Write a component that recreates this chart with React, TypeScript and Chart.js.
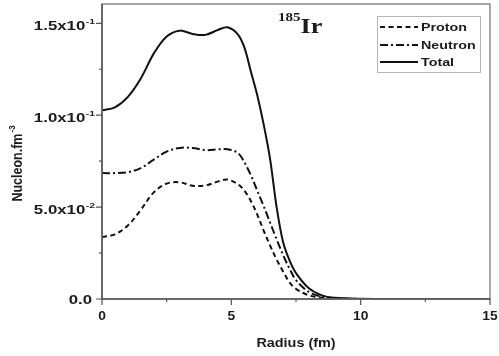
import React, { useEffect, useRef } from "react";
import { Chart, registerables } from "chart.js";

Chart.register(...registerables);

// ---- data ----
const radius = [0, 0.5, 1, 1.5, 2, 2.5, 3, 3.5, 4, 4.5, 4.85, 5.25, 5.5, 5.75, 6, 6.25, 6.5, 6.75, 7, 7.25, 7.5, 8, 8.5, 9, 10, 11, 12, 13, 14, 15];
const proton = [0.0337, 0.0352, 0.04, 0.0485, 0.058, 0.0628, 0.0635, 0.0616, 0.0618, 0.064, 0.065, 0.0625, 0.059, 0.0535, 0.046, 0.0372, 0.029, 0.0215, 0.015, 0.009, 0.0055, 0.002, 0.0007, 0.0002, 0, 0, 0, 0, 0, 0];
const neutron = [0.0685, 0.0685, 0.069, 0.0712, 0.0758, 0.0802, 0.0822, 0.0822, 0.081, 0.0814, 0.0815, 0.0795, 0.0745, 0.0675, 0.059, 0.0505, 0.0415, 0.0325, 0.024, 0.0165, 0.0103, 0.0038, 0.0013, 0.0004, 0.00005, 0, 0, 0, 0, 0];
const total = [0.1027, 0.1043, 0.11, 0.12, 0.1335, 0.1428, 0.146, 0.1442, 0.1437, 0.1465, 0.1478, 0.144, 0.137, 0.124, 0.111, 0.095, 0.076, 0.05, 0.031, 0.021, 0.0141, 0.0058, 0.002, 0.0007, 0.0001, 0, 0, 0, 0, 0];

const seriesLabels = ["Proton", "Neutron", "Total"];

const xTickValues = [0, 5, 10, 15];
const xTickLabels = ["0", "5", "10", "15"];
const xMinorTicks = [2.5, 7.5, 12.5];

const yTickValues = [0, 0.05, 0.1, 0.15];
const yTickLabels = ["0.0", "5.0x10", "1.0x10", "1.5x10"];
const yTickExponents = ["", "-2", "-1", "-1"];
const yMinorTicks = [0.025, 0.075, 0.125];

const xTitle = "Radius (fm)";
const yTitle = "Nucleon.fm";
const yTitleExp = "-3";
const isoMass = "185";
const isoSymbol = "Ir";

const TEXT = "#1c1c1c";
const SANS = "'Liberation Sans', Arial, sans-serif";
const SERIF = "'Liberation Serif', 'Times New Roman', serif";

function stretchedText(ctx: CanvasRenderingContext2D, text: string, x: number, y: number, font: string, sx: number, align: "left" | "right" | "center", baseline: CanvasTextBaseline = "alphabetic") {
  ctx.save();
  ctx.font = font;
  ctx.fillStyle = TEXT;
  ctx.textBaseline = baseline;
  ctx.translate(x, y);
  ctx.scale(sx, 1);
  ctx.textAlign = align;
  ctx.fillText(text, 0, 0);
  ctx.restore();
}

function textWidth(ctx: CanvasRenderingContext2D, text: string, font: string, sx: number) {
  ctx.save();
  ctx.font = font;
  const w = ctx.measureText(text).width * sx;
  ctx.restore();
  return w;
}

const decorPlugin = {
  id: "decor",
  afterDatasetsDraw(chart: any) {
    const ctx: CanvasRenderingContext2D = chart.ctx;
    const { left, right, top, bottom } = chart.chartArea;
    const xs = chart.scales.x;
    const ys = chart.scales.y;

    // frame
    ctx.save();
    ctx.lineWidth = 1.5;
    ctx.strokeStyle = "#8a8a8a";
    ctx.strokeRect(left, top, right - left, bottom - top);
    ctx.strokeStyle = "#555";
    ctx.beginPath();
    ctx.moveTo(left, top);
    ctx.lineTo(left, bottom);
    ctx.lineTo(right, bottom);
    ctx.stroke();

    // ticks
    ctx.lineWidth = 1.2;
    ctx.beginPath();
    yTickValues.forEach((v) => {
      const y = ys.getPixelForValue(v);
      ctx.moveTo(left, y);
      ctx.lineTo(left - 6, y);
    });
    yMinorTicks.forEach((v) => {
      const y = ys.getPixelForValue(v);
      ctx.moveTo(left, y);
      ctx.lineTo(left - 3, y);
    });
    xTickValues.forEach((v) => {
      const x = xs.getPixelForValue(v);
      ctx.moveTo(x, bottom);
      ctx.lineTo(x, bottom + 6);
    });
    xMinorTicks.forEach((v) => {
      const x = xs.getPixelForValue(v);
      ctx.moveTo(x, bottom);
      ctx.lineTo(x, bottom + 3);
    });
    ctx.stroke();
    ctx.restore();

    // y tick labels with superscript exponents
    const yFont = `bold 12px ${SANS}`;
    const expFont = `bold 8px ${SANS}`;
    yTickValues.forEach((v, i) => {
      const y = ys.getPixelForValue(v);
      const exp = yTickExponents[i];
      const rightEdge = left - 7;
      if (exp) {
        const ew = textWidth(ctx, exp, expFont, 1.3);
        stretchedText(ctx, exp, rightEdge, y + 0.5, expFont, 1.3, "right");
        stretchedText(ctx, yTickLabels[i], rightEdge - ew - 0.5, y + 6.5, yFont, 1.4, "right");
      } else {
        stretchedText(ctx, yTickLabels[i], rightEdge - 3, y + 5, yFont, 1.4, "right");
      }
    });

    // x tick labels
    const xFont = `bold 12px ${SANS}`;
    xTickValues.forEach((v, i) => {
      const x = xs.getPixelForValue(v);
      stretchedText(ctx, xTickLabels[i], x, bottom + 21, xFont, 1.15, "center");
    });

    // x title
    stretchedText(ctx, xTitle, (left + right) / 2, bottom + 48, `bold 12px ${SANS}`, 1.2, "center");

    // y title (rotated)
    ctx.save();
    const tFont = `bold 12.5px ${SANS}`;
    const teFont = `bold 8px ${SANS}`;
    ctx.font = tFont;
    const tw = ctx.measureText(yTitle).width;
    ctx.font = teFont;
    const tew = ctx.measureText(yTitleExp).width;
    const cy = (top + bottom) / 2 + 12;
    ctx.translate(17, cy);
    ctx.rotate(-Math.PI / 2);
    ctx.scale(1, 1.2);
    ctx.fillStyle = TEXT;
    ctx.textAlign = "left";
    ctx.textBaseline = "alphabetic";
    const startX = -(tw + tew + 1) / 2;
    ctx.font = tFont;
    ctx.fillText(yTitle, startX, 4.5);
    ctx.font = teFont;
    ctx.fillText(yTitleExp, startX + tw + 1, -1.5);
    ctx.restore();

    // isotope annotation
    const massFont = `bold 12px ${SERIF}`;
    const symFont = `bold 21px ${SERIF}`;
    const ax = left + 176;
    const mw = textWidth(ctx, isoMass, massFont, 1.25);
    stretchedText(ctx, isoMass, ax, top + 17, massFont, 1.25, "left");
    stretchedText(ctx, isoSymbol, ax + mw, top + 29, symFont, 1.25, "left");

    // legend
    const lx = right - 113;
    const ly = top + 12;
    const lw = 103;
    const lh = 56;
    ctx.save();
    ctx.fillStyle = "#fff";
    ctx.fillRect(lx, ly, lw, lh);
    ctx.strokeStyle = "#b5b5b5";
    ctx.lineWidth = 1;
    ctx.strokeRect(lx + 0.5, ly + 0.5, lw, lh);
    ctx.restore();
    const rowY = [ly + 11, ly + 29, ly + 46];
    chart.data.datasets.forEach((ds: any, i: number) => {
      const y = rowY[i];
      ctx.save();
      ctx.strokeStyle = ds.borderColor;
      ctx.lineWidth = 2;
      ctx.setLineDash(ds.borderDash || []);
      ctx.beginPath();
      ctx.moveTo(lx + 3, y);
      ctx.lineTo(lx + 41, y);
      ctx.stroke();
      ctx.restore();
      stretchedText(ctx, ds.label, lx + 44, y + 4, `bold 11px ${SANS}`, 1.3, "left");
    });
  },
};

export default function App() {
  const canvasRef = useRef<HTMLCanvasElement | null>(null);

  useEffect(() => {
    const canvas = canvasRef.current;
    if (!canvas) return;
    const seriesValues = [proton, neutron, total];
    const dashes = [[5, 3.5], [8, 3, 2, 3], []];
    const chart = new Chart(canvas, {
      type: "line",
      data: {
        datasets: seriesValues.map((vals, i) => ({
          label: seriesLabels[i],
          data: radius.map((r, j) => ({ x: r, y: vals[j] })),
          borderColor: "#111",
          borderWidth: 2,
          borderDash: dashes[i],
          pointRadius: 0,
          fill: false,
          tension: 0.35,
        })),
      },
      options: {
        responsive: false,
        animation: false,
        devicePixelRatio: 1,
        layout: { padding: { left: 102, right: 9, top: 4, bottom: 57 } },
        plugins: { legend: { display: false }, tooltip: { enabled: false } },
        scales: {
          x: { type: "linear", min: 0, max: 15, display: false },
          y: { type: "linear", min: 0, max: 0.1605, display: false },
        },
      },
      plugins: [decorPlugin],
    });
    return () => chart.destroy();
  }, []);

  return (
    <div style={{ position: "fixed", left: 0, top: 0, width: 499, height: 356, background: "#fff" }}>
      <canvas ref={canvasRef} width={499} height={356} style={{ display: "block" }} />
    </div>
  );
}
